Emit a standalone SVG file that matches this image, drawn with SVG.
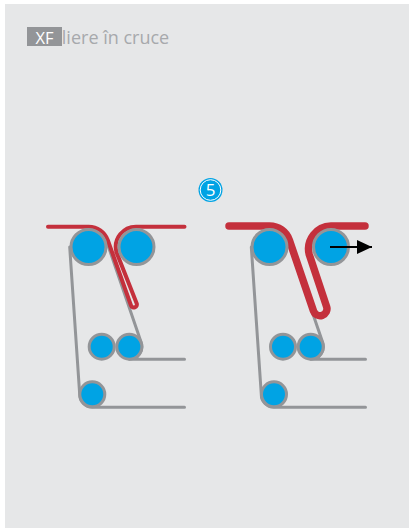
<svg xmlns="http://www.w3.org/2000/svg" width="409" height="528" viewBox="0 0 409 528">
<style>
.belt{fill:none;stroke:#939598;stroke-width:3;stroke-linecap:round;stroke-linejoin:round}
.red{fill:none;stroke:#c4303c;stroke-linecap:round;stroke-linejoin:round}
.big{fill:#00a3e4;stroke:#939598;stroke-width:3}
text{font-family:"Open Sans","Noto Sans",sans-serif}
</style>
<defs><marker id="arr" markerUnits="userSpaceOnUse" markerWidth="16" markerHeight="14" refX="15" refY="7" orient="auto"><path d="M0 0L15 7L0 14Z" fill="#000"/></marker></defs>
<rect width="409" height="528" fill="#fff"/>
<rect x="5" y="4" width="404" height="524" fill="#e6e7e8"/>
<g id="title">
<text x="51" y="44" font-size="18" fill="#a7a9ac">Pliere în cruce</text>
<rect x="27" y="27" width="35" height="19" fill="#939598"/>
<text x="44.500" y="43.500" font-size="16.500" fill="#fff" text-anchor="middle">XF</text>
</g>
<g id="connectors">
<path class="belt" d="M69.700 247L79.700 394.300A12.600 12.600 0 0 0 92.300 407.200H184.500"/>
<path class="belt" d="M106.500 241L141.200 342.600A12.600 12.600 0 0 1 129.300 359.300H184.500"/>
<path class="red" stroke-width="4" d="M48 226.700H88.500A20.300 20.300 0 0 1 107.800 240.200L131 305.500A3 3 0 0 0 136.700 303.500L116.400 252A20.300 20.300 0 0 1 136.500 226.700H184.500"/>
<path class="belt" d="M251.300 247L261.300 394.300A12.600 12.600 0 0 0 274 407.200H365.500"/>
<path class="belt" d="M288 241L322.700 342.600A12.600 12.600 0 0 1 310.700 359.300H365.500"/>
<path class="red" stroke-width="7.500" d="M229 226H269.500A21 21 0 0 1 289.400 240.200L313.500 311A6.900 6.900 0 0 0 326.600 306.600L309.200 254.400A23 23 0 0 1 331 226H365"/>
</g>
<g id="roller-l1"><circle class="big" cx="88.500" cy="247" r="17.500"/></g>
<g id="roller-l2"><circle class="big" cx="136.500" cy="247" r="17.500"/></g>
<g id="roller-l3"><circle class="big" cx="101.700" cy="346.700" r="12.500"/></g>
<g id="roller-l4"><circle class="big" cx="129.300" cy="346.700" r="12.500"/></g>
<g id="roller-l5"><circle class="big" cx="92.300" cy="394.300" r="12.500"/></g>
<g id="roller-r1"><circle class="big" cx="269.500" cy="247" r="17.500"/></g>
<g id="roller-r2"><circle class="big" cx="331" cy="247" r="17.500"/></g>
<g id="roller-r3"><circle class="big" cx="283" cy="346.700" r="12.500"/></g>
<g id="roller-r4"><circle class="big" cx="310.700" cy="346.700" r="12.500"/></g>
<g id="roller-r5"><circle class="big" cx="274" cy="394.300" r="12.500"/></g>
<g id="arrow"><path d="M330 247H372" stroke="#000" stroke-width="2" fill="none" marker-end="url(#arr)"/></g>
<g id="step-5">
<circle cx="210.500" cy="190" r="12" fill="#00a3e4"/>
<circle cx="210.500" cy="190" r="10.300" fill="none" stroke="#fff" stroke-width="1"/>
<text x="210.500" y="196" font-size="17" fill="#fff" text-anchor="middle">5</text>
</g>
</svg>
